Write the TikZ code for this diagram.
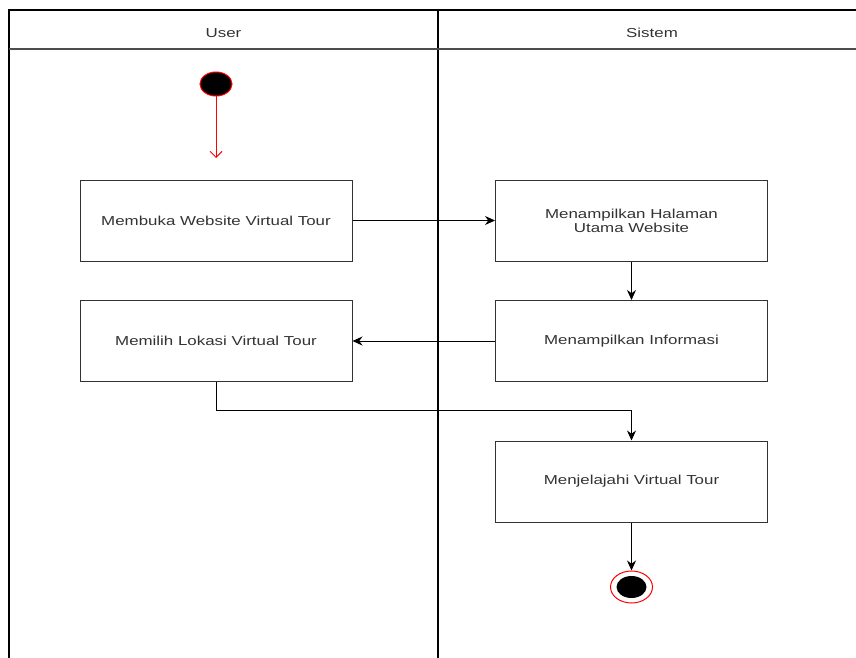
\documentclass[tikz,border=0pt]{standalone}
\usepackage{fontspec}
\setmainfont{Liberation Sans}[FakeStretch=1.3]
\usetikzlibrary{arrows.meta,shapes.geometric}
\definecolor{txt}{HTML}{333333}
\tikzset{
  act/.style={draw=black!80, line width=1pt, minimum width=272pt, minimum height=81pt, inner sep=0pt, align=center, text=txt, font=\fontsize{13}{14}\selectfont},
  lbl/.style={text=txt, font=\fontsize{13}{14}\selectfont, inner sep=0pt},
  flow/.style={draw=black, line width=1pt, -{Stealth[length=10pt,width=9pt]}},
  lane/.style={draw=black, line width=1.3pt},
}
\begin{document}
\begin{tikzpicture}[x=1pt,y=-1pt]
\useasboundingbox (0,0) rectangle (856,658);
% swimlanes
\draw[lane] (9,658) -- (9,10) -- (856,10);
\draw[lane] (438,10) -- (438,658);
\draw[draw=black!70, line width=1.3pt] (9,49) -- (856,49);
\node[lbl] (huser) at (223.5,33) {User};
\node[lbl] (hsys) at (652,33) {Sistem};
% start
\node[draw=red, fill=black, line width=1pt, ellipse, minimum width=32pt, minimum height=24pt, inner sep=0pt] (start) at (216,84) {};
% activities
\node[act] (a1) at (216,220.5) {Membuka Website Virtual Tour};
\node[act] (a2) at (631.5,220.5) {Menampilkan Halaman\\Utama Website};
\node[act] (a3) at (216,341) {Memilih Lokasi Virtual Tour};
\node[act] (a4) at (631.5,341) {Menampilkan Informasi};
\node[act] (a5) at (631.5,481.5) {Menjelajahi Virtual Tour};
% end
\node[draw=red, line width=1pt, ellipse, minimum width=42pt, minimum height=32pt, inner sep=0pt] (endo) at (631.5,587) {};
\node[fill=black, ellipse, minimum width=30pt, minimum height=22pt, inner sep=0pt] (endi) at (631.5,587) {};
% connectors
\draw[draw=red, line width=1pt, -{Straight Barb[length=6pt,width=12pt]}] (start) -- (216,158);
\draw[flow] (a1) -- (a2);
\draw[flow] (a2) -- (a4);
\draw[flow] (a4) -- (a3);
\draw[flow] (a3.south) -- (216,410) -| (a5.north);
\draw[flow] (a5) -- (endo);
\end{tikzpicture}
\end{document}
